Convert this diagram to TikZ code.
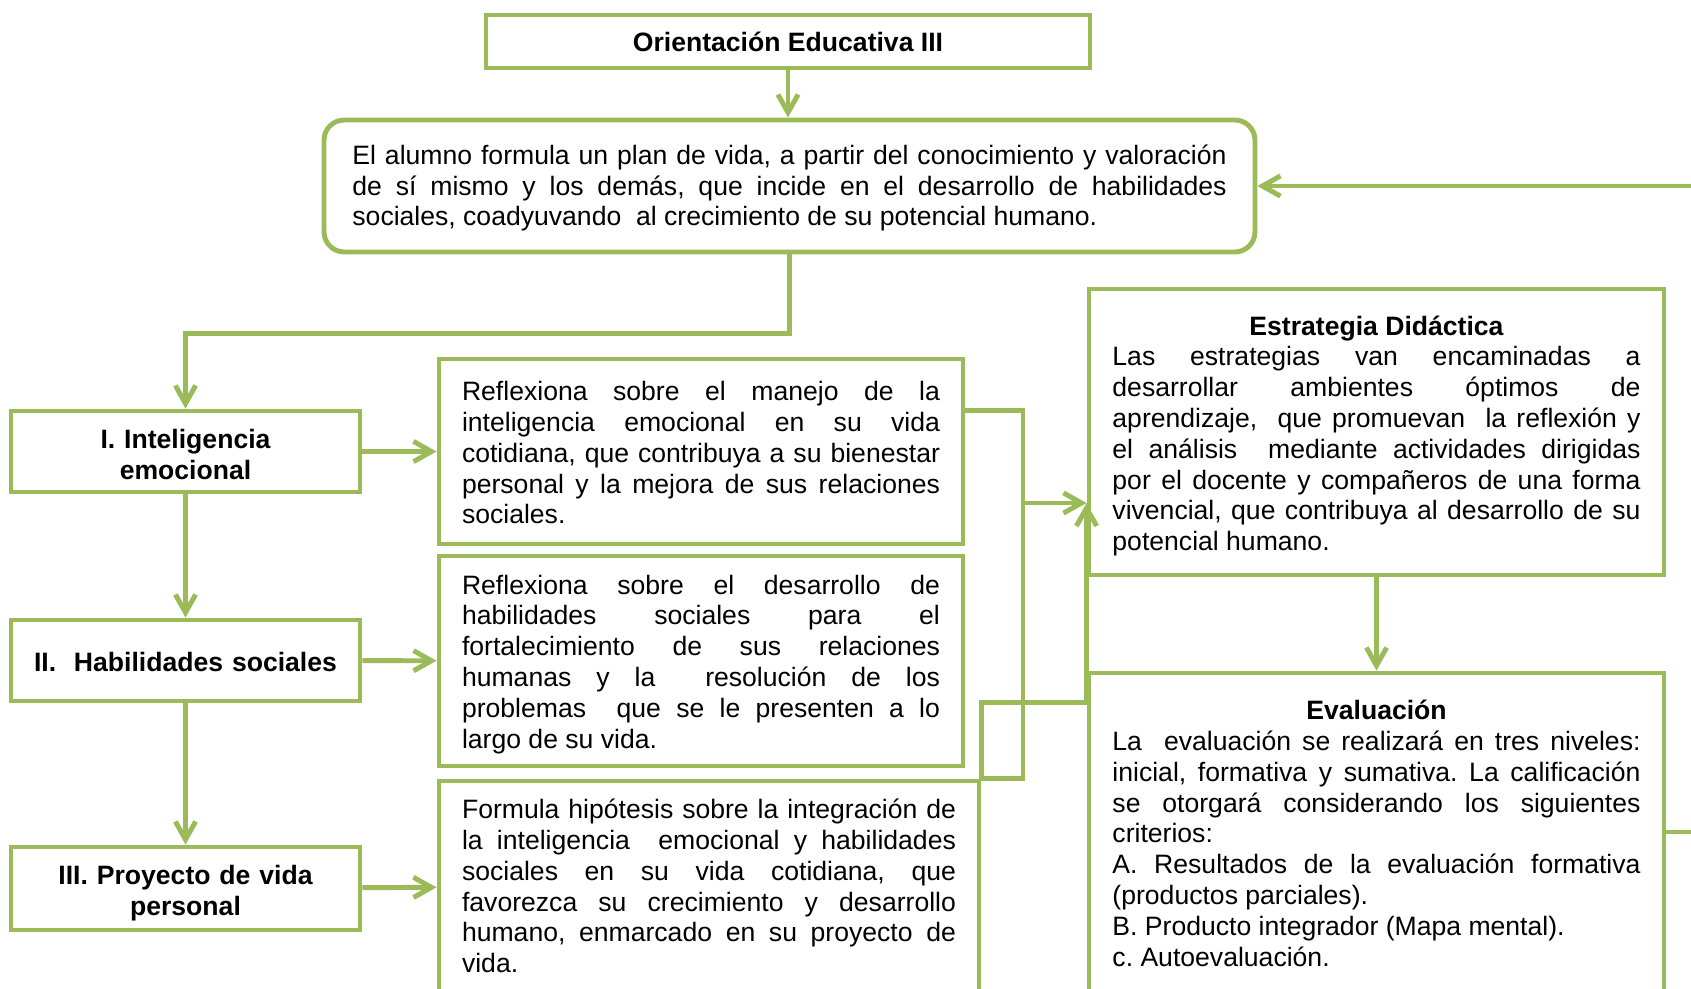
\documentclass[tikz,border=0pt]{standalone}
\usepackage{fontspec}
\setmainfont{Liberation Sans}
\usepackage{xcolor}
\usetikzlibrary{arrows.meta,calc,positioning}
\definecolor{verde}{RGB}{155,187,89}
\newcommand{\upx}{0.445pt}
\setlength{\parindent}{0pt}
\frenchspacing

\begin{document}
\begin{tikzpicture}[x=0.445pt,y=-0.445pt,
	caja/.style={draw=verde,line width=2.2pt,inner sep=0pt,font=\fontsize{11.83}{13.7}\selectfont},
	tema/.style={caja,font=\fontsize{11.83}{13.7}\selectfont\bfseries,align=center},
	texto/.style={caja,align=justify},
	baja/.style={execute at begin node={\rule{0pt}{#1}}},
	linea/.style={draw=verde,line width=2.2pt},
	flecha/.style={linea,-{Straight Barb[length=8pt,width=9pt]}}]
	\useasboundingbox (0,0) rectangle (1691,989);
	\clip (0,0) rectangle (1691,989);
	\node[tema,baja=9.4pt,minimum width={604*\upx},minimum height={53*\upx}] (titulo) at (788,41.5) {Orientación Educativa III};
	\node[texto,baja=10.6pt,rounded corners=9pt,text width=389pt,minimum width={931*\upx},minimum height={132*\upx}] (objetivo) at (789.5,186) {El alumno formula un plan de vida, a partir del conocimiento y valoración\linebreak de sí mismo y los demás, que incide en el desarrollo de habilidades\linebreak sociales, coadyuvando\ \ al crecimiento de su potencial humano.};
	\node[tema,baja=11.5pt,text width=150pt,minimum width={349*\upx},minimum height={81*\upx}] (bloqueI) at (185.5,451.5) {I. Inteligencia\\emocional};
	\node[tema,baja=9.8pt,text width=150pt,minimum width={349*\upx},minimum height={81*\upx}] (bloqueII) at (185.5,660.5) {II.\ \ Habilidades sociales};
	\node[tema,baja=12.4pt,text width=150pt,minimum width={349*\upx},minimum height={83*\upx}] (bloqueIII) at (185.5,888.5) {III. Proyecto de vida\\personal};
	\node[texto,baja=9.8pt,text width=212.7pt,minimum width={524*\upx},minimum height={185*\upx}] (textoI) at (701,451.5) {Reflexiona sobre el manejo de la\linebreak inteligencia emocional en su vida\linebreak cotidiana, que contribuya a su bienestar\linebreak personal y la mejora de sus relaciones\linebreak sociales.};
	\node[texto,baja=11.4pt,text width=212.7pt,minimum width={524*\upx},minimum height={210*\upx}] (textoII) at (701,661) {Reflexiona sobre el desarrollo de\linebreak habilidades sociales para el\linebreak fortalecimiento de sus relaciones\linebreak humanas y la\ \ resolución de los\linebreak problemas\ \ que se le presenten a lo\linebreak largo de su vida.};
	\node[texto,text width=219.8pt,minimum width={540*\upx},minimum height={210*\upx}] (textoIII) at (709,886) {Formula hipótesis sobre la integración de\linebreak la inteligencia\ \ emocional y habilidades\linebreak sociales en su vida cotidiana, que\linebreak favorezca su crecimiento y desarrollo\linebreak humano, enmarcado en su proyecto de\linebreak vida.};
	\node[texto,baja=12.2pt,text width=235pt,minimum width={575*\upx},minimum height={286*\upx}] (estrategia) at (1376.5,432) {{\centering\bfseries Estrategia Didáctica\par}Las estrategias van encaminadas a\linebreak desarrollar ambientes óptimos de\linebreak aprendizaje,\ \ que promuevan\ \ la reflexión y\linebreak el análisis\ \ mediante actividades dirigidas\linebreak por el docente y compañeros de una forma\linebreak vivencial, que contribuya al desarrollo de su\linebreak potencial humano.};
	\node[texto,baja=9.8pt,text width=235pt,minimum width={575*\upx},minimum height={318*\upx}] (evaluacion) at (1376.5,832) {{\centering\bfseries Evaluación\par}La\ \ evaluación se realizará en tres niveles:\linebreak inicial, formativa y sumativa. La calificación\linebreak se otorgará considerando los siguientes\linebreak criterios:\par A. Resultados de la evaluación formativa\linebreak (productos parciales).\par B. Producto integrador (Mapa mental).\par c. Autoevaluación.};
	\draw[flecha] (titulo.south) -- (titulo.south |- objetivo.north);
	\draw[flecha] (objetivo.south) -- ++(0,79) -| (bloqueI.north);
	\draw[flecha] (bloqueI) -- (bloqueII);
	\draw[flecha] (bloqueII) -- (bloqueIII);
	\draw[flecha] (bloqueI) -- (textoI);
	\draw[flecha] (bloqueII) -- (textoII);
	\draw[flecha] (bloqueIII) -- (textoIII);
	\draw[flecha] (estrategia) -- (evaluacion);
	\coordinate (llave) at (1023,503);
	\draw[linea] ($(textoI.north east)+(0,53.5)$) -| (llave) |- (textoIII.north east);
	\draw[flecha] (llave) -- (llave -| estrategia.west);
	\draw[flecha] (textoIII.north east) -- ++(0,-76.5) -| (llave -| estrategia.west);
	\draw[flecha] (evaluacion.east) -- ++(60,0) |- (objetivo.east);
\end{tikzpicture}
\end{document}
